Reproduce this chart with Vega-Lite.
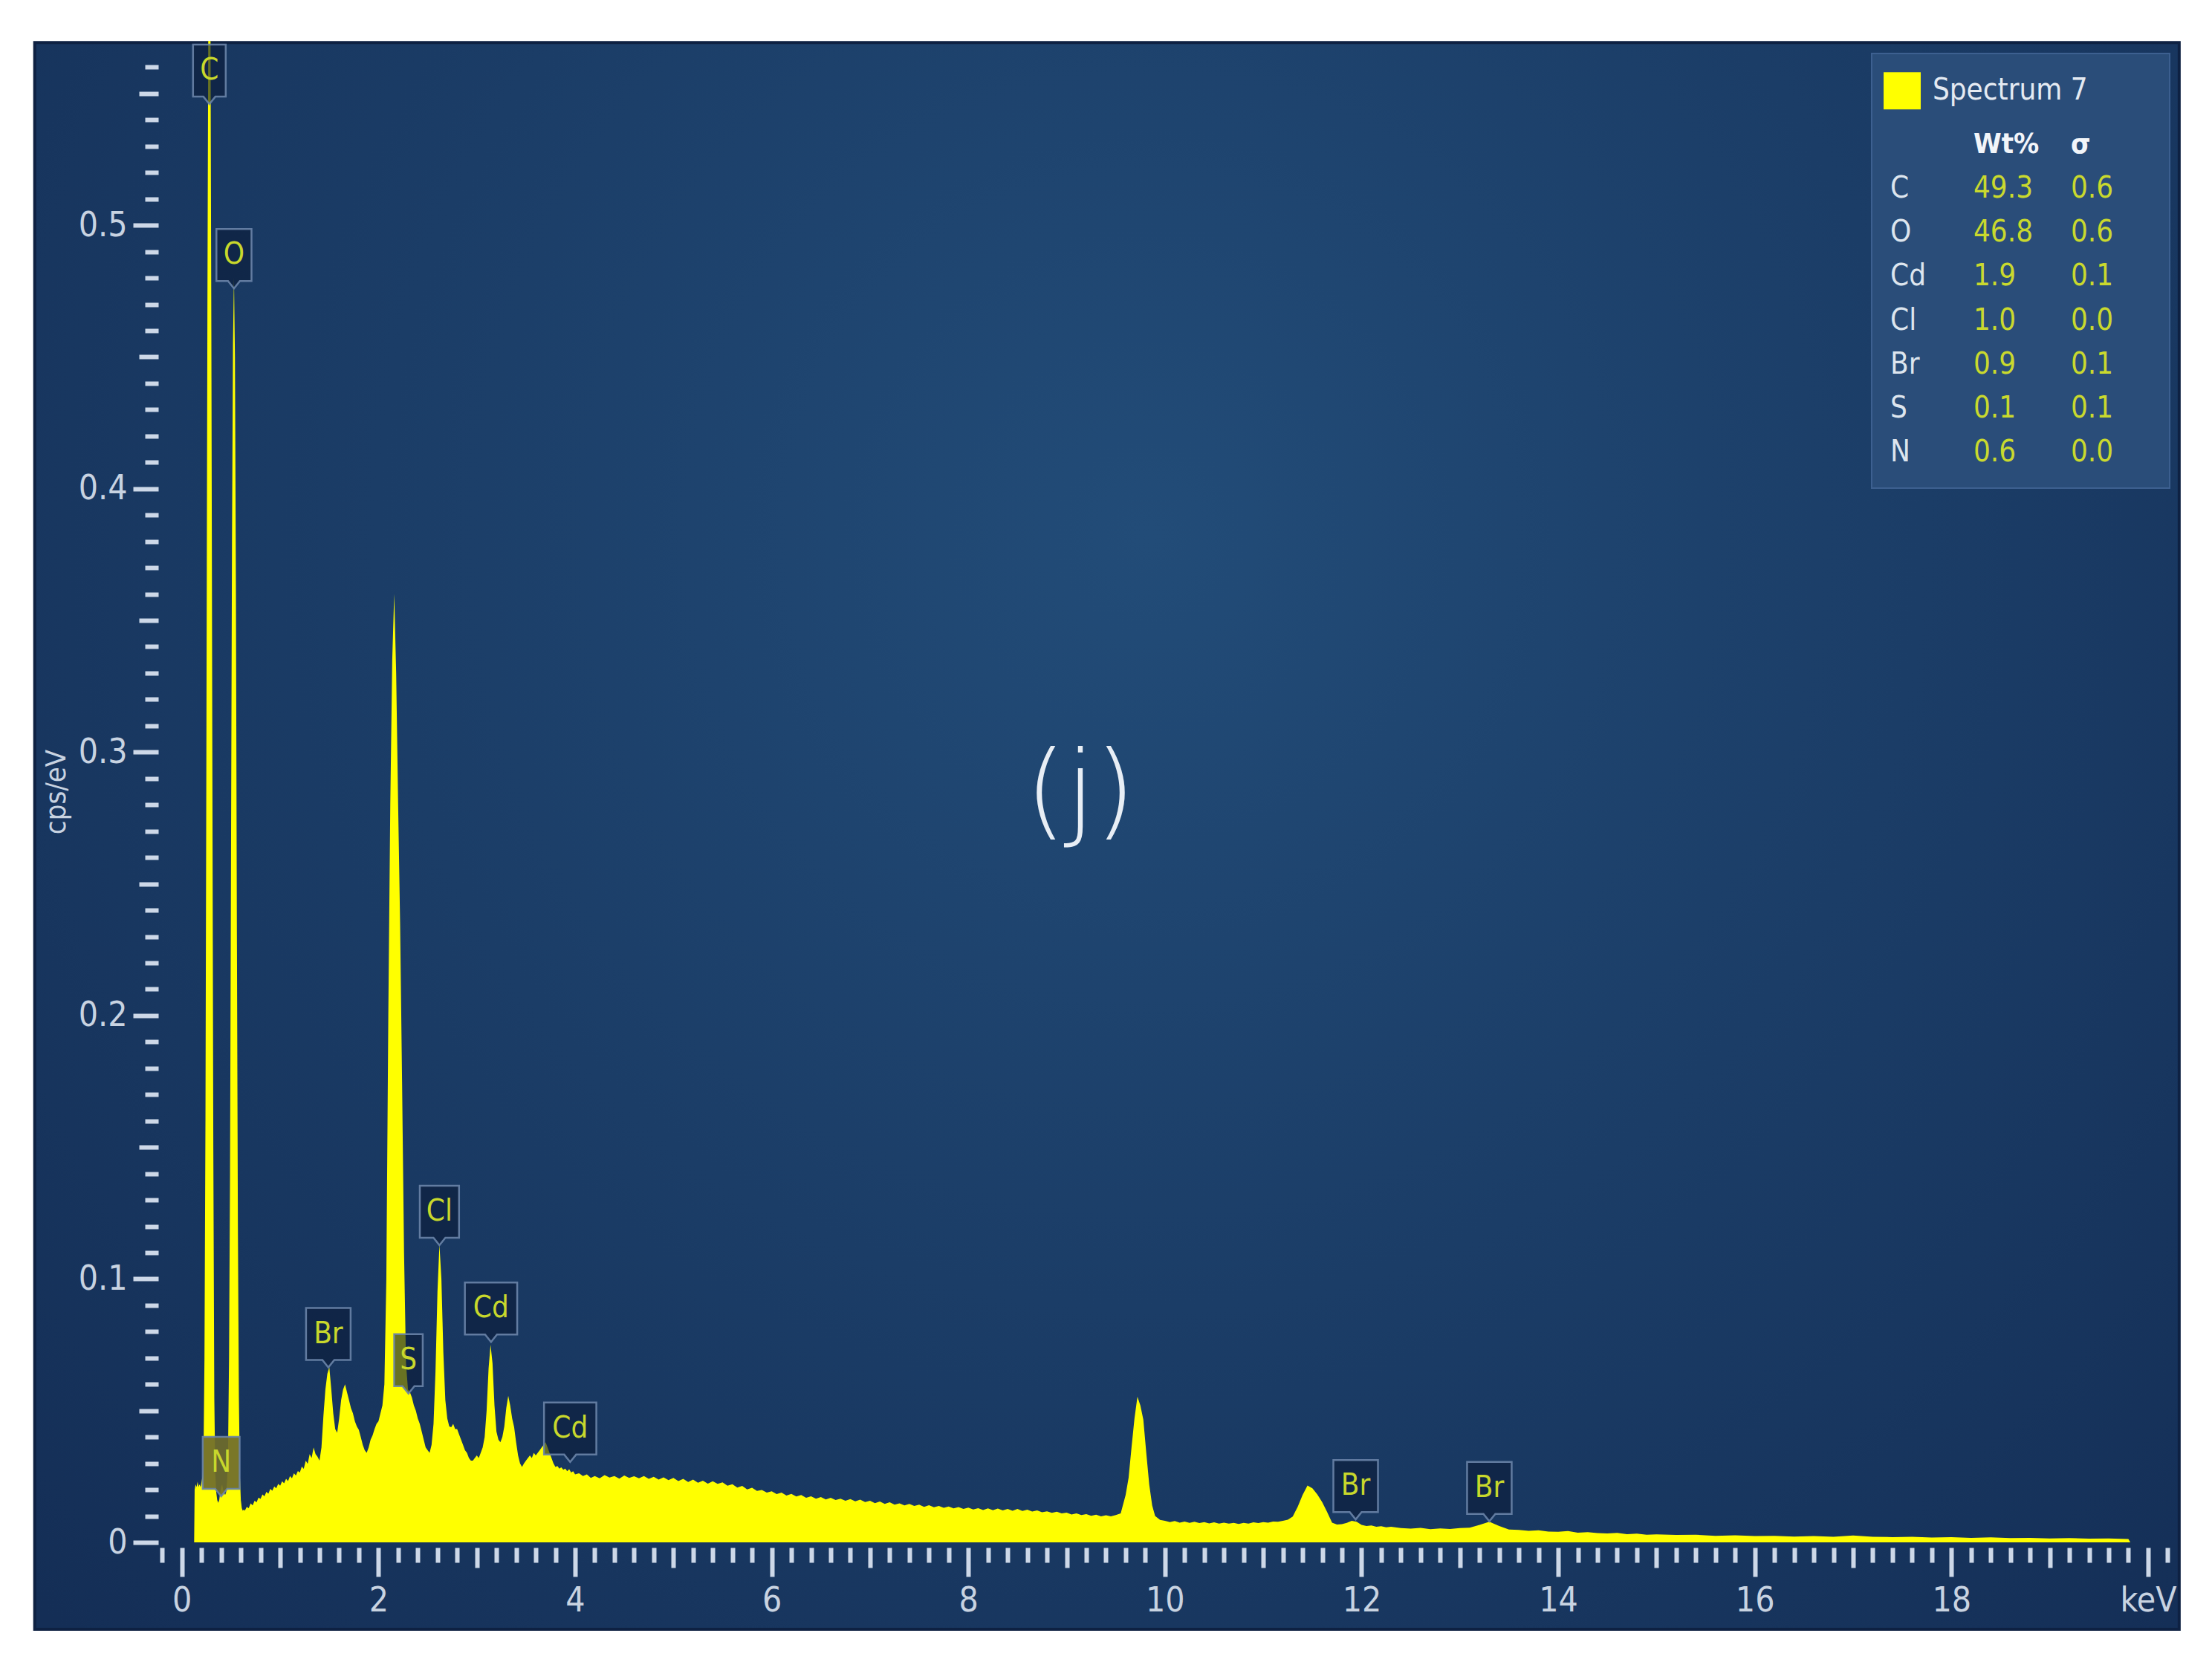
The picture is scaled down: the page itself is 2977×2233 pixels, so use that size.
{
  "$schema": "https://vega.github.io/schema/vega-lite/v6.json",
  "width": 2711,
  "height": 2021,
  "autosize": "none",
  "padding": {"left": 213, "top": 55, "right": 53, "bottom": 157},
  "background": "#ffffff",
  "config": {
    "view": {"stroke": null},
    "axis": {
      "domain": false, "grid": false, "tickColor": "#cdd8e8", "tickWidth": 6,
      "labelColor": "#c8d3e1", "labelFont": "Liberation Sans Narrow, DejaVu Sans Condensed, Open Sans, sans-serif",
      "labelFontSize": 46, "labelFlush": false, "labelOverlap": false,
      "titleFont": "Liberation Sans Narrow, DejaVu Sans Condensed, Open Sans, sans-serif", "titleColor": "#c8d3e1", "titleFontWeight": "normal"
    },
    "axisX": {"tickSize": 39},
    "axisY": {"tickSize": 34},
    "text": {"font": "Liberation Sans Narrow, DejaVu Sans Condensed, Open Sans, sans-serif"}
  },
  "datasets": {
    "spectrum": [
      {"e":0.125,"c":0},{"e":0.13,"c":0.020},{"e":0.14,"c":0.022},{"e":0.15,"c":0.021},{"e":0.16,"c":0.023},{"e":0.17,"c":0.021},{"e":0.18,"c":0.022},{"e":0.19,"c":0.021},{"e":0.20,"c":0.023},{"e":0.21,"c":0.025},{"e":0.22,"c":0.032},{"e":0.23,"c":0.07},{"e":0.24,"c":0.16},{"e":0.25,"c":0.31},{"e":0.26,"c":0.47},{"e":0.27,"c":0.59},{"e":0.28,"c":0.64},{"e":0.29,"c":0.59},{"e":0.30,"c":0.46},{"e":0.31,"c":0.30},{"e":0.32,"c":0.15},{"e":0.33,"c":0.055},{"e":0.34,"c":0.026},{"e":0.35,"c":0.019},{"e":0.36,"c":0.016},{"e":0.37,"c":0.015},{"e":0.38,"c":0.016},{"e":0.39,"c":0.019},{"e":0.40,"c":0.021},{"e":0.41,"c":0.022},{"e":0.42,"c":0.020},{"e":0.43,"c":0.019},{"e":0.44,"c":0.018},{"e":0.45,"c":0.019},{"e":0.46,"c":0.023},{"e":0.47,"c":0.035},{"e":0.48,"c":0.07},{"e":0.49,"c":0.14},{"e":0.50,"c":0.26},{"e":0.51,"c":0.38},{"e":0.52,"c":0.455},{"e":0.53,"c":0.48},{"e":0.54,"c":0.45},{"e":0.55,"c":0.36},{"e":0.56,"c":0.23},{"e":0.57,"c":0.12},{"e":0.58,"c":0.055},{"e":0.59,"c":0.026},{"e":0.60,"c":0.016},{"e":0.61,"c":0.013},{"e":0.62,"c":0.012},{"e":0.63,"c":0.0125},{"e":0.64,"c":0.012},{"e":0.66,"c":0.0135},{"e":0.68,"c":0.013},{"e":0.70,"c":0.0148},{"e":0.72,"c":0.014},{"e":0.74,"c":0.0158},{"e":0.76,"c":0.0152},{"e":0.78,"c":0.017},{"e":0.80,"c":0.0165},{"e":0.82,"c":0.0182},{"e":0.84,"c":0.0175},{"e":0.86,"c":0.0192},{"e":0.88,"c":0.0185},{"e":0.90,"c":0.0203},{"e":0.92,"c":0.0196},{"e":0.94,"c":0.0212},{"e":0.96,"c":0.0205},{"e":0.98,"c":0.0222},{"e":1.00,"c":0.0215},{"e":1.02,"c":0.0232},{"e":1.04,"c":0.0224},{"e":1.06,"c":0.0241},{"e":1.08,"c":0.0233},{"e":1.10,"c":0.0252},{"e":1.12,"c":0.0243},{"e":1.14,"c":0.0262},{"e":1.16,"c":0.0254},{"e":1.18,"c":0.0271},{"e":1.20,"c":0.0265},{"e":1.22,"c":0.0288},{"e":1.24,"c":0.0279},{"e":1.26,"c":0.031},{"e":1.28,"c":0.0298},{"e":1.30,"c":0.0335},{"e":1.32,"c":0.032},{"e":1.34,"c":0.036},{"e":1.36,"c":0.0335},{"e":1.38,"c":0.0325},{"e":1.40,"c":0.031},{"e":1.42,"c":0.036},{"e":1.44,"c":0.048},{"e":1.46,"c":0.058},{"e":1.48,"c":0.064},{"e":1.50,"c":0.0665},{"e":1.52,"c":0.058},{"e":1.54,"c":0.049},{"e":1.56,"c":0.043},{"e":1.58,"c":0.0416},{"e":1.60,"c":0.047},{"e":1.62,"c":0.054},{"e":1.64,"c":0.058},{"e":1.66,"c":0.060},{"e":1.68,"c":0.057},{"e":1.70,"c":0.054},{"e":1.72,"c":0.051},{"e":1.74,"c":0.049},{"e":1.76,"c":0.046},{"e":1.78,"c":0.044},{"e":1.80,"c":0.0427},{"e":1.82,"c":0.040},{"e":1.84,"c":0.037},{"e":1.86,"c":0.035},{"e":1.88,"c":0.034},{"e":1.90,"c":0.036},{"e":1.92,"c":0.039},{"e":1.94,"c":0.0406},{"e":1.96,"c":0.043},{"e":1.98,"c":0.045},{"e":2.00,"c":0.046},{"e":2.02,"c":0.049},{"e":2.04,"c":0.052},{"e":2.06,"c":0.06},{"e":2.08,"c":0.10},{"e":2.10,"c":0.20},{"e":2.12,"c":0.28},{"e":2.14,"c":0.335},{"e":2.16,"c":0.36},{"e":2.18,"c":0.33},{"e":2.20,"c":0.28},{"e":2.22,"c":0.235},{"e":2.24,"c":0.175},{"e":2.26,"c":0.11},{"e":2.28,"c":0.068},{"e":2.30,"c":0.058},{"e":2.32,"c":0.057},{"e":2.34,"c":0.055},{"e":2.36,"c":0.052},{"e":2.38,"c":0.050},{"e":2.40,"c":0.047},{"e":2.42,"c":0.045},{"e":2.44,"c":0.042},{"e":2.46,"c":0.039},{"e":2.48,"c":0.036},{"e":2.50,"c":0.035},{"e":2.52,"c":0.034},{"e":2.54,"c":0.037},{"e":2.56,"c":0.045},{"e":2.58,"c":0.065},{"e":2.60,"c":0.095},{"e":2.62,"c":0.113},{"e":2.64,"c":0.10},{"e":2.66,"c":0.072},{"e":2.68,"c":0.054},{"e":2.70,"c":0.047},{"e":2.72,"c":0.044},{"e":2.74,"c":0.0437},{"e":2.76,"c":0.045},{"e":2.78,"c":0.043},{"e":2.80,"c":0.043},{"e":2.82,"c":0.041},{"e":2.84,"c":0.039},{"e":2.86,"c":0.037},{"e":2.88,"c":0.035},{"e":2.90,"c":0.034},{"e":2.92,"c":0.032},{"e":2.94,"c":0.031},{"e":2.96,"c":0.031},{"e":2.98,"c":0.032},{"e":3.00,"c":0.033},{"e":3.02,"c":0.032},{"e":3.04,"c":0.034},{"e":3.06,"c":0.036},{"e":3.08,"c":0.040},{"e":3.10,"c":0.050},{"e":3.12,"c":0.066},{"e":3.14,"c":0.075},{"e":3.16,"c":0.068},{"e":3.18,"c":0.052},{"e":3.20,"c":0.042},{"e":3.22,"c":0.039},{"e":3.24,"c":0.038},{"e":3.26,"c":0.040},{"e":3.28,"c":0.044},{"e":3.30,"c":0.051},{"e":3.32,"c":0.0556},{"e":3.34,"c":0.052},{"e":3.36,"c":0.047},{"e":3.38,"c":0.0437},{"e":3.40,"c":0.038},{"e":3.42,"c":0.033},{"e":3.44,"c":0.030},{"e":3.46,"c":0.0286},{"e":3.48,"c":0.030},{"e":3.50,"c":0.031},{"e":3.52,"c":0.032},{"e":3.54,"c":0.033},{"e":3.56,"c":0.032},{"e":3.58,"c":0.034},{"e":3.60,"c":0.033},{"e":3.62,"c":0.034},{"e":3.64,"c":0.035},{"e":3.66,"c":0.036},{"e":3.68,"c":0.037},{"e":3.70,"c":0.038},{"e":3.72,"c":0.036},{"e":3.74,"c":0.034},{"e":3.76,"c":0.032},{"e":3.78,"c":0.030},{"e":3.80,"c":0.0286},{"e":3.82,"c":0.029},{"e":3.84,"c":0.028},{"e":3.86,"c":0.0285},{"e":3.88,"c":0.0276},{"e":3.90,"c":0.028},{"e":3.92,"c":0.027},{"e":3.94,"c":0.0278},{"e":3.96,"c":0.0265},{"e":3.98,"c":0.027},{"e":4.00,"c":0.0258},{"e":4.04,"c":0.0262},{"e":4.08,"c":0.0252},{"e":4.12,"c":0.0258},{"e":4.16,"c":0.0245},{"e":4.20,"c":0.0252},
      {"e":4.25,"c":0.0243},{"e":4.30,"c":0.0255},{"e":4.35,"c":0.0246},{"e":4.40,"c":0.0252},{"e":4.45,"c":0.0242},{"e":4.50,"c":0.0254},{"e":4.55,"c":0.0245},{"e":4.60,"c":0.0251},{"e":4.65,"c":0.0243},{"e":4.70,"c":0.0252},{"e":4.75,"c":0.0241},{"e":4.80,"c":0.0249},{"e":4.85,"c":0.0238},{"e":4.90,"c":0.0247},{"e":4.95,"c":0.0236},{"e":5.00,"c":0.0245},{"e":5.05,"c":0.0233},{"e":5.10,"c":0.0241},{"e":5.15,"c":0.0229},{"e":5.20,"c":0.0238},{"e":5.25,"c":0.0226},{"e":5.30,"c":0.0234},{"e":5.35,"c":0.0223},{"e":5.40,"c":0.0232},{"e":5.45,"c":0.0222},{"e":5.50,"c":0.0228},{"e":5.55,"c":0.0215},{"e":5.60,"c":0.0221},{"e":5.65,"c":0.0208},{"e":5.70,"c":0.0214},{"e":5.75,"c":0.0201},{"e":5.80,"c":0.0207},{"e":5.85,"c":0.0195},{"e":5.90,"c":0.0199},{"e":5.95,"c":0.0189},{"e":6.00,"c":0.0194},{"e":6.05,"c":0.0183},{"e":6.10,"c":0.0189},{"e":6.15,"c":0.0178},{"e":6.20,"c":0.0184},{"e":6.25,"c":0.0174},{"e":6.30,"c":0.018},{"e":6.35,"c":0.0169},{"e":6.40,"c":0.0175},{"e":6.45,"c":0.0166},{"e":6.50,"c":0.0172},{"e":6.55,"c":0.0163},{"e":6.60,"c":0.0169},{"e":6.65,"c":0.0161},{"e":6.70,"c":0.0166},{"e":6.75,"c":0.0158},{"e":6.80,"c":0.0164},{"e":6.85,"c":0.0156},{"e":6.90,"c":0.0162},{"e":6.95,"c":0.0153},{"e":7.00,"c":0.0158},{"e":7.05,"c":0.0149},{"e":7.10,"c":0.0155},{"e":7.15,"c":0.0146},{"e":7.20,"c":0.0152},{"e":7.25,"c":0.0143},{"e":7.30,"c":0.0148},{"e":7.35,"c":0.014},{"e":7.40,"c":0.0146},{"e":7.45,"c":0.0138},{"e":7.50,"c":0.0143},{"e":7.55,"c":0.0135},{"e":7.60,"c":0.0141},{"e":7.65,"c":0.0133},{"e":7.70,"c":0.0138},{"e":7.75,"c":0.0131},{"e":7.80,"c":0.0136},{"e":7.85,"c":0.0129},{"e":7.90,"c":0.0134},{"e":7.95,"c":0.0127},{"e":8.00,"c":0.0132},{"e":8.05,"c":0.0125},{"e":8.10,"c":0.013},{"e":8.15,"c":0.0123},{"e":8.20,"c":0.0129},{"e":8.25,"c":0.0122},{"e":8.30,"c":0.0128},{"e":8.35,"c":0.0121},{"e":8.40,"c":0.0127},{"e":8.45,"c":0.012},{"e":8.50,"c":0.0127},{"e":8.55,"c":0.0119},{"e":8.60,"c":0.0124},{"e":8.65,"c":0.0117},{"e":8.70,"c":0.0121},{"e":8.75,"c":0.0114},{"e":8.80,"c":0.0118},{"e":8.85,"c":0.0112},{"e":8.90,"c":0.0116},{"e":8.95,"c":0.011},{"e":9.00,"c":0.0113},{"e":9.05,"c":0.0106},{"e":9.10,"c":0.011},{"e":9.15,"c":0.0104},{"e":9.20,"c":0.0107},{"e":9.25,"c":0.0101},{"e":9.30,"c":0.0105},{"e":9.35,"c":0.0099},{"e":9.40,"c":0.0103},{"e":9.45,"c":0.0099},{"e":9.50,"c":0.0104},{"e":9.55,"c":0.011},{"e":9.60,"c":0.018},{"e":9.63,"c":0.0245},{"e":9.66,"c":0.036},{"e":9.69,"c":0.047},{"e":9.72,"c":0.0553},{"e":9.75,"c":0.052},{"e":9.78,"c":0.0466},{"e":9.81,"c":0.034},{"e":9.84,"c":0.022},{"e":9.87,"c":0.014},{"e":9.90,"c":0.010},{"e":9.95,"c":0.0085},{"e":10.00,"c":0.0082},{"e":10.05,"c":0.0077},{"e":10.10,"c":0.0081},{"e":10.15,"c":0.0075},{"e":10.20,"c":0.0079},{"e":10.25,"c":0.0074},{"e":10.30,"c":0.0078},{"e":10.35,"c":0.0073},{"e":10.40,"c":0.0077},{"e":10.45,"c":0.0072},{"e":10.50,"c":0.0076},{"e":10.55,"c":0.0071},{"e":10.60,"c":0.0075},{"e":10.65,"c":0.0071},{"e":10.70,"c":0.0074},{"e":10.75,"c":0.007},{"e":10.80,"c":0.0074},{"e":10.85,"c":0.0071},{"e":10.90,"c":0.0076},{"e":10.95,"c":0.0073},{"e":11.00,"c":0.0077},{"e":11.05,"c":0.0075},{"e":11.10,"c":0.0079},{"e":11.15,"c":0.0078},{"e":11.20,"c":0.0082},{"e":11.25,"c":0.0086},{"e":11.30,"c":0.0098},{"e":11.35,"c":0.0135},{"e":11.40,"c":0.018},{"e":11.45,"c":0.0216},{"e":11.50,"c":0.0205},{"e":11.55,"c":0.0182},{"e":11.60,"c":0.0152},{"e":11.65,"c":0.0115},{"e":11.70,"c":0.0075},{"e":11.75,"c":0.0068},{"e":11.80,"c":0.0069},{"e":11.85,"c":0.0074},{"e":11.90,"c":0.0082},{"e":11.95,"c":0.0078},{"e":12.00,"c":0.0066},{"e":12.05,"c":0.0062},{"e":12.10,"c":0.0064},{"e":12.15,"c":0.0059},{"e":12.20,"c":0.0061},{"e":12.25,"c":0.0057},{"e":12.30,"c":0.0059},{"e":12.40,"c":0.0054},{"e":12.50,"c":0.0052},{"e":12.60,"c":0.0055},{"e":12.70,"c":0.005},{"e":12.80,"c":0.0053},{"e":12.90,"c":0.0051},{"e":13.00,"c":0.0054},{"e":13.10,"c":0.0056},{"e":13.20,"c":0.0066},{"e":13.30,"c":0.0078},{"e":13.40,"c":0.0062},{"e":13.50,"c":0.0049},{"e":13.60,"c":0.0047},{"e":13.70,"c":0.0044},{"e":13.80,"c":0.0046},{"e":13.90,"c":0.0041},{"e":14.00,"c":0.004},{"e":14.10,"c":0.0043},{"e":14.20,"c":0.0037},{"e":14.30,"c":0.0039},{"e":14.40,"c":0.0035},{"e":14.50,"c":0.0034},{"e":14.60,"c":0.0036},{"e":14.70,"c":0.0031},{"e":14.80,"c":0.0033},{"e":14.90,"c":0.0029},{"e":15.00,"c":0.003},{"e":15.20,"c":0.0028},{"e":15.40,"c":0.0029},{"e":15.60,"c":0.0025},{"e":15.80,"c":0.0027},{"e":16.00,"c":0.0024},{"e":16.20,"c":0.0025},{"e":16.40,"c":0.0022},{"e":16.60,"c":0.0024},{"e":16.80,"c":0.0021},{"e":17.00,"c":0.0026},{"e":17.20,"c":0.0021},{"e":17.40,"c":0.002},{"e":17.60,"c":0.0021},{"e":17.80,"c":0.0018},{"e":18.00,"c":0.002},{"e":18.20,"c":0.0017},{"e":18.40,"c":0.0019},{"e":18.60,"c":0.0016},{"e":18.80,"c":0.0017},{"e":19.00,"c":0.0015},{"e":19.20,"c":0.0016},{"e":19.40,"c":0.0014},{"e":19.60,"c":0.0015},{"e":19.80,"c":0.0013},{"e":19.82,"c":0}
    ],
    "peaks": [
      {"el":"C","e":0.28,"tip":0.546},
      {"el":"O","e":0.53,"tip":0.476},
      {"el":"N","e":0.40,"tip":0.0175},
      {"el":"Br","e":1.49,"tip":0.0664},
      {"el":"S","e":2.305,"tip":0.0565},
      {"el":"Cl","e":2.62,"tip":0.1128},
      {"el":"Cd","e":3.145,"tip":0.0761},
      {"el":"Cd","e":3.95,"tip":0.0305},
      {"el":"Br","e":11.94,"tip":0.0087},
      {"el":"Br","e":13.30,"tip":0.008}
    ],
    "quant": [
      {"el":"C","wt":49.3,"sd":0.6},
      {"el":"O","wt":46.8,"sd":0.6},
      {"el":"Cd","wt":1.9,"sd":0.1},
      {"el":"Cl","wt":1.0,"sd":0.0},
      {"el":"Br","wt":0.9,"sd":0.1},
      {"el":"S","wt":0.1,"sd":0.1},
      {"el":"N","wt":0.6,"sd":0.0}
    ]
  },
  "layer": [
    {
      "data": {"values": [{}]},
      "mark": {"type": "rect", "stroke": "#0e2142", "strokeWidth": 4,
        "fill": {"gradient": "radial", "x1": 0.52, "y1": 0.36, "x2": 0.52, "y2": 0.36, "r1": 0, "r2": 0.72,
          "stops": [{"offset": 0, "color": "#224c78"}, {"offset": 1, "color": "#142e56"}]}},
      "encoding": {
        "x": {"datum": -1.497, "type": "quantitative", "axis": null},
        "x2": {"datum": 20.317},
        "y": {"datum": 0.5694, "type": "quantitative", "axis": null, "scale": {"domain": [0, 0.57], "nice": false}},
        "y2": {"datum": -0.033}
      }
    },
    {
      "data": {"name": "spectrum"},
      "mark": {"type": "area", "color": "#ffff00", "clip": true, "interpolate": "linear"},
      "encoding": {
        "x": {"field": "e", "type": "quantitative",
          "scale": {"domain": [-0.24, 20.25], "nice": false, "zero": false},
          "axis": {"orient": "bottom", "zindex": 1, "offset": 7, "labelPadding": 10, "title": null,
            "tickSize": {"condition": [
              {"test": "abs(datum.value / 2 - round(datum.value / 2)) < 0.01", "value": 39},
              {"test": "abs(datum.value - round(datum.value)) < 0.01", "value": 27}], "value": 20},
            "labelExpr": "abs(datum.value / 2 - round(datum.value / 2)) < 0.01 ? (datum.value > 19.9 ? 'keV' : format(datum.value, 'd')) : ''",
            "values": [-0.2,0,0.2,0.4,0.6,0.8,1,1.2,1.4,1.6,1.8,2,2.2,2.4,2.6,2.8,3,3.2,3.4,3.6,3.8,4,4.2,4.4,4.6,4.8,5,5.2,5.4,5.6,5.8,6,6.2,6.4,6.6,6.8,7,7.2,7.4,7.6,7.8,8,8.2,8.4,8.6,8.8,9,9.2,9.4,9.6,9.8,10,10.2,10.4,10.6,10.8,11,11.2,11.4,11.6,11.8,12,12.2,12.4,12.6,12.8,13,13.2,13.4,13.6,13.8,14,14.2,14.4,14.6,14.8,15,15.2,15.4,15.6,15.8,16,16.2,16.4,16.6,16.8,17,17.2,17.4,17.6,17.8,18,18.2,18.4,18.6,18.8,19,19.2,19.4,19.6,19.8,20,20.2]}},
        "y": {"field": "c", "type": "quantitative",
          "scale": {"domain": [0, 0.57], "nice": false},
          "axis": {"orient": "left", "zindex": 1, "labelPadding": 8, "title": "cps/eV", "titleFontSize": 38, "titlePadding": 10,
            "tickSize": {"condition": [
              {"test": "abs(datum.value * 10 - round(datum.value * 10)) < 0.001", "value": 34},
              {"test": "abs(datum.value * 20 - round(datum.value * 20)) < 0.001", "value": 26}], "value": 18},
            "labelExpr": "abs(datum.value * 10 - round(datum.value * 10)) < 0.001 ? (datum.value == 0 ? '0' : format(datum.value, '.1f')) : ''",
            "values": [0,0.01,0.02,0.03,0.04,0.05,0.06,0.07,0.08,0.09,0.1,0.11,0.12,0.13,0.14,0.15,0.16,0.17,0.18,0.19,0.2,0.21,0.22,0.23,0.24,0.25,0.26,0.27,0.28,0.29,0.3,0.31,0.32,0.33,0.34,0.35,0.36,0.37,0.38,0.39,0.4,0.41,0.42,0.43,0.44,0.45,0.46,0.47,0.48,0.49,0.5,0.51,0.52,0.53,0.54,0.55,0.56]}}
      }
    },
    {
      "data": {"name": "peaks"},
      "mark": {"type": "point", "filled": true, "opacity": 1, "size": 6400, "stroke": "#6a84a8", "strokeWidth": 2.5, "strokeOpacity": 0.9},
      "encoding": {
        "x": {"field": "e", "type": "quantitative", "axis": null},
        "y": {"field": "tip", "type": "quantitative", "axis": null, "scale": {"domain": [0, 0.57], "nice": false}},
        "shape": {"field": "el", "type": "nominal", "legend": null,
          "scale": {"domain": ["C","O","N","Br","S","Cl","Cd"],
            "range": [
              "M-0.55,-2L0.55,-2L0.55,-0.25L0.2,-0.25L0,0L-0.2,-0.25L-0.55,-0.25Z",
              "M-0.59,-2L0.59,-2L0.59,-0.25L0.2,-0.25L0,0L-0.2,-0.25L-0.59,-0.25Z",
              "M-0.62,-2L0.62,-2L0.62,-0.25L0.2,-0.25L0,0L-0.2,-0.25L-0.62,-0.25Z",
              "M-0.75,-2L0.75,-2L0.75,-0.25L0.2,-0.25L0,0L-0.2,-0.25L-0.75,-0.25Z",
              "M-0.48,-2L0.48,-2L0.48,-0.25L0.2,-0.25L0,0L-0.2,-0.25L-0.48,-0.25Z",
              "M-0.66,-2L0.66,-2L0.66,-0.25L0.2,-0.25L0,0L-0.2,-0.25L-0.66,-0.25Z",
              "M-0.88,-2L0.88,-2L0.88,-0.25L0.2,-0.25L0,0L-0.2,-0.25L-0.88,-0.25Z"
            ]}},
        "fill": {"condition": {"test": "datum.el === 'N'", "value": "#6f6b2b"}, "value": "#0b1b38"},
        "fillOpacity": {"condition": {"test": "datum.el === 'N'", "value": 0.92}, "value": 0.62}
      }
    },
    {
      "data": {"name": "peaks"},
      "mark": {"type": "text", "dy": -45, "fontSize": 40, "color": "#c8d82c", "baseline": "middle", "align": "center"},
      "encoding": {
        "x": {"field": "e", "type": "quantitative", "axis": null},
        "y": {"field": "tip", "type": "quantitative", "axis": null, "scale": {"domain": [0, 0.57], "nice": false}},
        "text": {"field": "el"}
      }
    },
    {
      "data": {"values": [{}]},
      "mark": {"type": "text", "text": "(j)", "font": "DejaVu Sans", "fontWeight": 300, "fontSize": 140, "color": "#e8eef5", "baseline": "middle", "align": "center"},
      "encoding": {
        "x": {"datum": 9.14, "type": "quantitative", "axis": null},
        "y": {"datum": 0.284, "type": "quantitative", "axis": null, "scale": {"domain": [0, 0.57], "nice": false}}
      }
    },
    {
      "data": {"values": [{}]},
      "mark": {"type": "rect", "fill": "#2a4d79", "stroke": "#3d6090", "strokeWidth": 2},
      "encoding": {
        "x": {"datum": 17.189, "type": "quantitative", "axis": null},
        "x2": {"datum": 20.22},
        "y": {"datum": 0.5652, "type": "quantitative", "axis": null, "scale": {"domain": [0, 0.57], "nice": false}},
        "y2": {"datum": 0.4002}
      }
    },
    {
      "data": {"values": [{}]},
      "mark": {"type": "point", "shape": "square", "filled": true, "opacity": 1, "size": 2500, "color": "#ffff00"},
      "encoding": {
        "x": {"datum": 17.499, "type": "quantitative", "axis": null},
        "y": {"datum": 0.551, "type": "quantitative", "axis": null, "scale": {"domain": [0, 0.57], "nice": false}}
      }
    },
    {
      "data": {"values": [{}]},
      "mark": {"type": "text", "text": "Spectrum 7", "fontSize": 40, "color": "#e4eaf2", "align": "left", "baseline": "middle"},
      "encoding": {
        "x": {"datum": 17.808, "type": "quantitative", "axis": null},
        "y": {"datum": 0.551, "type": "quantitative", "axis": null, "scale": {"domain": [0, 0.57], "nice": false}}
      }
    },
    {
      "data": {"values": [{}]},
      "mark": {"type": "text", "text": "Wt%", "fontSize": 38, "fontWeight": "bold", "color": "#f2f5f9", "align": "left", "baseline": "middle"},
      "encoding": {
        "x": {"datum": 18.224, "type": "quantitative", "axis": null},
        "y": {"datum": 0.5305, "type": "quantitative", "axis": null, "scale": {"domain": [0, 0.57], "nice": false}}
      }
    },
    {
      "data": {"values": [{}]},
      "mark": {"type": "text", "text": "σ", "fontSize": 38, "fontWeight": "bold", "color": "#f2f5f9", "align": "left", "baseline": "middle"},
      "encoding": {
        "x": {"datum": 19.214, "type": "quantitative", "axis": null},
        "y": {"datum": 0.5305, "type": "quantitative", "axis": null, "scale": {"domain": [0, 0.57], "nice": false}}
      }
    },
    {
      "data": {"name": "quant"},
      "mark": {"type": "text", "fontSize": 40, "color": "#dde5ee", "align": "left", "baseline": "middle"},
      "encoding": {
        "x": {"datum": 17.378, "type": "quantitative", "axis": null},
        "y": {"field": "el", "type": "nominal", "axis": null,
          "scale": {"type": "point", "domain": ["C","O","Cd","Cl","Br","S","N"], "range": [199, 554], "padding": 0}},
        "text": {"field": "el"}
      }
    },
    {
      "data": {"name": "quant"},
      "mark": {"type": "text", "fontSize": 40, "color": "#c9d92e", "align": "left", "baseline": "middle"},
      "encoding": {
        "x": {"datum": 18.224, "type": "quantitative", "axis": null},
        "y": {"field": "el", "type": "nominal", "axis": null,
          "scale": {"type": "point", "domain": ["C","O","Cd","Cl","Br","S","N"], "range": [199, 554], "padding": 0}},
        "text": {"field": "wt", "type": "quantitative", "format": ".1f"}
      }
    },
    {
      "data": {"name": "quant"},
      "mark": {"type": "text", "fontSize": 40, "color": "#c9d92e", "align": "left", "baseline": "middle"},
      "encoding": {
        "x": {"datum": 19.214, "type": "quantitative", "axis": null},
        "y": {"field": "el", "type": "nominal", "axis": null,
          "scale": {"type": "point", "domain": ["C","O","Cd","Cl","Br","S","N"], "range": [199, 554], "padding": 0}},
        "text": {"field": "sd", "type": "quantitative", "format": ".1f"}
      }
    }
  ],
  "resolve": {"scale": {"y": "independent"}, "axis": {"x": "independent"}}
}
